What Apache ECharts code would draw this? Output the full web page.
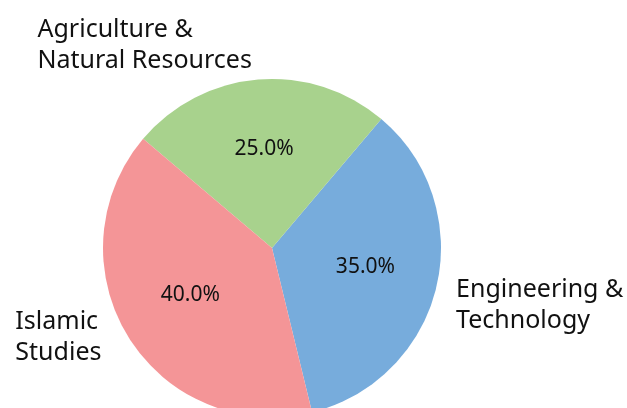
<!DOCTYPE html>
<html>
<head>
<meta charset="utf-8">
<script src="https://cdn.jsdelivr.net/npm/echarts@6/dist/echarts.min.js"></script>
<style>
  html, body { margin: 0; padding: 0; background: #fff; }
  #chart { width: 627px; height: 408px; }
</style>
</head>
<body>
<div id="chart"></div>
<script>
// 数据
const categories = ['Engineering &\nTechnology', 'Agriculture &\nNatural Resources', 'Islamic\nStudies']
const shares = [35, 25, 40]
const colors = ['#77acdc', '#a8d28d', '#f49597']

// 外侧标签的微调（padding 上右下左）
const labelPads = [[30, 0, 0, 0], [0, 0, 39, 0], [0, 9, 14, 0]]

const chart = echarts.init(document.getElementById('chart'))

const fontFamily = 'Noto Sans'

const option = {
  backgroundColor: '#fff',
  animation: false,
  series: [
    {
      name: 'outer',
      type: 'pie',
      center: [272, 248],
      radius: [0, 169],
      startAngle: 283.7,
      clockwise: false,
      avoidLabelOverlap: false,
      silent: true,
      data: categories.map((name, i) => ({
        name: name,
        value: shares[i],
        itemStyle: { color: colors[i] },
        label: { padding: labelPads[i] }
      })),
      label: {
        show: true,
        position: 'outside',
        bleedMargin: 0,
        distanceToLabelLine: 5,
        formatter: p => '{n|' + p.name + '}',
        rich: {
          n: {
            align: 'left',
            fontFamily: fontFamily,
            fontSize: 25,
            lineHeight: 31,
            color: '#111'
          }
        }
      },
      labelLine: { show: false, length: 15, length2: 0 },
      emphasis: { disabled: true }
    },
    {
      // 百分比标签
      name: 'pct',
      type: 'pie',
      center: [272, 245],
      radius: [0, 186],
      startAngle: 283.7,
      clockwise: false,
      avoidLabelOverlap: false,
      silent: true,
      z: 3,
      data: categories.map((name, i) => ({ name: name, value: shares[i] })),
      itemStyle: { color: 'rgba(0,0,0,0)' },
      label: {
        show: true,
        position: 'inside',
        formatter: p => p.percent.toFixed(1) + '%',
        fontFamily: fontFamily,
        fontSize: 21,
        color: '#111'
      },
      labelLine: { show: false },
      emphasis: { disabled: true }
    }
  ]
}

chart.setOption(option)

window.addEventListener('resize', () => chart.resize())
</script>
</body>
</html>
